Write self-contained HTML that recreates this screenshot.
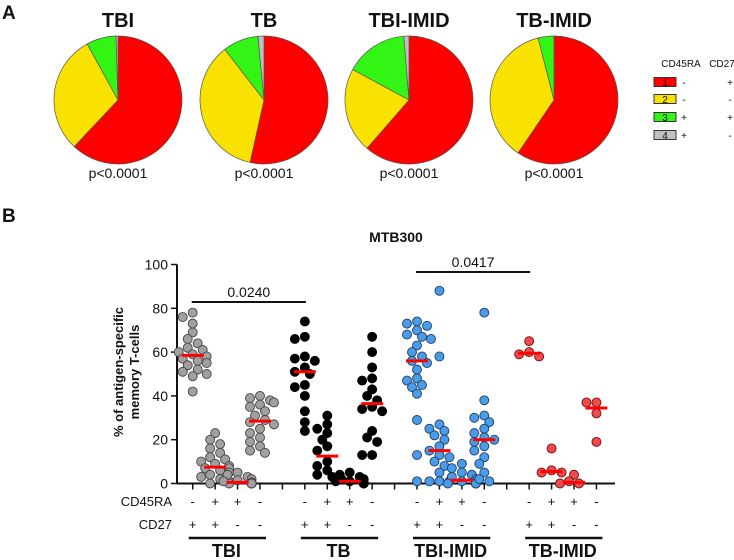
<!DOCTYPE html>
<html><head><meta charset="utf-8"><style>
body{margin:0;background:#fff;}
svg{display:block;font-family:"Liberation Sans",Arial,sans-serif;}
</style></head><body>
<svg id="fig" width="734" height="560" viewBox="0 0 734 560">
<g id="pies"></g>
<g id="legend"></g>
<g id="scatter"></g>
</svg>
<script>
// ---- Panel A data ----
const pieGroups = ["TBI","TB","TBI-IMID","TB-IMID"];
const pieRed =    [62.0, 53.5, 61.4, 59.5];
const pieYellow = [30.0, 36.0, 21.5, 36.5];
const pieGreen =  [7.5, 9.0, 15.8, 4.0];
const pieGray =   [0.5, 1.5, 1.3, 0.0];
const pieP = ["p<0.0001","p<0.0001","p<0.0001","p<0.0001"];
const legendNums = ["1","2","3","4"];
const legendCD45RA = ["-","-","+","+"];
const legendCD27 = ["+","-","+","-"];

// ---- Panel B data ----
const colGroups = ["TBI","TB","TBI-IMID","TB-IMID"];
const colCD45RA = ["-","+","+","-"];
const colCD27 = ["+","+","-","-"];
const yTicks = [0,20,40,60,80,100];
const tbiVals = [
 [78,76,73,69,66,64,62,61,60,59,58,57,56,55,54,52,51,50,49,42],
 [23,20,18,16,14,12,11,10,9,8,7,7,6,5,4,3,2,1,0,0],
 [5,4,3,2,1.5,1,0.5,0.5,0,0,0,0,0],
 [40,39,38,37,36,35,33,31,29,28,27,25,23,21,19,17,15,14]
];
const tbVals = [
 [74,67,66,58,57,56,53,51,50,45,44,40,33,28,24],
 [31,27,25,23,20,17,15,10,8,6,4,3,2,2],
 [5,4,3,2,1,1,0.5,0,0],
 [67,60,53,48,47,43,40,38,35,34,33,24,21,19,13,13]
];
const tbiImidVals = [
 [74,73,72,70,68,67,66,63,60,58,56,55,52,48,47,45,44,41,29,13,1],
 [88,58,27,25,24,22,20,17,15,13,12,10,8,5,1,1,1],
 [9,7,5,4,3,2,1,1,0,0,0,0],
 [78,38,31,30,28,25,23,21,20,19,17,15,12,9,5,2,1]
];
const tbImidVals = [
 [65,60,59,58],
 [16,6,5,5],
 [4,1,0,0],
 [37,37,32,19]
];
const sigLabels = ["0.0240","0.0417"];
const sigFrom = [0,2]; // group index, column 0
const sigTo = [1,3];   // group index, column 0

const NS="http://www.w3.org/2000/svg";
function mk(tag, attrs, parent){const e=document.createElementNS(NS,tag);for(const k in attrs)e.setAttribute(k,attrs[k]);parent.appendChild(e);return e;}
function txt(parent,x,y,s,size,weight,anchor){const t=mk("text",{x:x,y:y,"font-size":size,"font-weight":weight||"normal","text-anchor":anchor||"middle",fill:"#111"},parent);t.textContent=s;return t;}
const fig=document.getElementById("fig");

// ---- Panel A ----
const pies=document.getElementById("pies");
let t=txt(pies,2,19,"A",19,"bold","start");


const pieCx=[118,264,409,554], pieCy=100, pieR=64;
const colors=["#ff0000","#f9e100","#33f515","#c0c0c0"];
pieGroups.forEach((g,i)=>{
  const gp=mk("g",{},pies);
  
  
  const tt=txt(gp,pieCx[i],27,g,20,"bold");
  
  
  const vals=[pieRed[i],pieYellow[i],pieGreen[i],pieGray[i]];
  const tot=vals.reduce((a,b)=>a+b,0);
  let a0=0;
  vals.forEach((v,k)=>{
    if(v<=0)return;
    const a1=a0+v/tot*2*Math.PI;
    const x0=pieCx[i]+pieR*Math.sin(a0), y0=pieCy-pieR*Math.cos(a0);
    const x1=pieCx[i]+pieR*Math.sin(a1), y1=pieCy-pieR*Math.cos(a1);
    const large=(a1-a0)>Math.PI?1:0;
    const p=mk("path",{d:`M${pieCx[i]},${pieCy}L${x0},${y0}A${pieR},${pieR} 0 ${large} 1 ${x1},${y1}Z`,fill:colors[k],stroke:"#555","stroke-width":0.7},gp);
    
    
    a0=a1;
  });
  const pt=txt(gp,pieCx[i],178,pieP[i],14);
  
  
});
// legend
const lg=document.getElementById("legend");
let h1=txt(lg,681,67,"CD45RA",10,"normal");


let h2=txt(lg,722,67,"CD27",10,"normal");


const rowY=[82,99,117,135];
legendNums.forEach((n,k)=>{
  const r=mk("g",{},lg);
  
  
  mk("rect",{x:654,y:rowY[k]-4.5,width:22,height:9,fill:colors[k],stroke:"#333","stroke-width":1},r);
  txt(r,665,rowY[k]+4,n,10);
  txt(r,684,rowY[k]+4,legendCD45RA[k],10);
  txt(r,730,rowY[k]+4,legendCD27[k],10);
});

// ---- Panel B ----
const sc=document.getElementById("scatter");
let bl=txt(sc,2,222,"B",19,"bold","start");


let ttl=txt(sc,396,242,"MTB300",14,"bold");


const axX=177, axY0=483.5, axY100=264.5, xEnd=615;
function yS(v){return axY0-(v/100)*(axY0-axY100);}
function xS(g,c){return 192.7+22.43*(g*5+c);}
const yAx=mk("g",{},sc);


mk("line",{x1:axX,y1:axY100,x2:axX,y2:axY0,stroke:"#111","stroke-width":2},yAx);
yTicks.forEach(v=>{
  mk("line",{x1:axX-6,y1:yS(v),x2:axX,y2:yS(v),stroke:"#111","stroke-width":1.5},yAx);
  const l=txt(yAx,axX-9,yS(v)+5,String(v),14,"normal","end");
  
  
});
const yt=mk("text",{transform:"translate(127,372) rotate(-90)","text-anchor":"middle","font-size":13,"font-weight":"bold",fill:"#111"},sc);


const ts1=mk("tspan",{x:0,y:-4},yt);ts1.textContent="% of antigen-specific";
const ts2=mk("tspan",{x:0,y:12},yt);ts2.textContent="memory T-cells";
const xAx=mk("g",{},sc);


mk("line",{x1:axX,y1:axY0,x2:xEnd,y2:axY0,stroke:"#111","stroke-width":2},xAx);
for(let i=0;i<19;i++){const x=192.7+22.43*i;mk("line",{x1:x,y1:axY0,x2:x,y2:axY0+6,stroke:"#111","stroke-width":1.5},xAx);}
let r1=txt(xAx,172,506,"CD45RA",13,"normal","end");


let r2=txt(xAx,172,529,"CD27",13,"normal","end");



const allVals=[tbiVals,tbVals,tbiImidVals,tbImidVals];
const fills=["#a0a0a0","#000000","#4a9be8","#f24a4a"];
const strokes=["#444","#000","#1f3f66","#6b1010"];
function median(a){const s=[...a].sort((x,y)=>x-y);const n=s.length;return n%2?s[(n-1)/2]:(s[n/2-1]+s[n/2])/2;}
colGroups.forEach((g,gi)=>{
  const gg=mk("g",{},sc);
  
  
  for(let c=0;c<4;c++){
    const cx=xS(gi,c);
    const vals=[...allVals[gi][c]].sort((a,b)=>b-a);
    const placed=[];
    const offs=[0,-5,5,-10,10,-14,14];
    vals.forEach(v=>{
      const y=yS(v);let ox=0;
      for(const o of offs){if(placed.every(p=>Math.hypot(p[0]-o,p[1]-y)>=7.5)){ox=o;break;}ox=o;}
      placed.push([ox,y]);
      const d=mk("circle",{cx:cx+ox,cy:y,r:4.5,fill:fills[gi],stroke:strokes[gi],"stroke-width":0.9},gg);
      
      
    });
    const m=yS(median(allVals[gi][c]));
    const ml=mk("line",{x1:cx-11,y1:m,x2:cx+11,y2:m,stroke:"#ff0000","stroke-width":3},gg);
    
    
    txt(gg,cx,506,colCD45RA[c],13);
    txt(gg,cx,529,colCD27[c],13);
  }
  const gl=mk("line",{x1:xS(gi,0)-4,y1:538,x2:xS(gi,3)+6,y2:538,stroke:"#111","stroke-width":2.5},gg);
  
  
  const gt=txt(gg,(xS(gi,0)+xS(gi,3))/2,557,g,18,"bold");
  
  
});
const sigY=[302,272];
sigLabels.forEach((s,i)=>{
  const sg=mk("g",{},sc);
  
  
  const x1=xS(sigFrom[i],0)-1, x2=xS(sigTo[i],0)+1;
  mk("line",{x1:x1,y1:sigY[i],x2:x2,y2:sigY[i],stroke:"#111","stroke-width":2},sg);
  txt(sg,(x1+x2)/2,sigY[i]-5,s,14);
});
</script>
</body></html>
